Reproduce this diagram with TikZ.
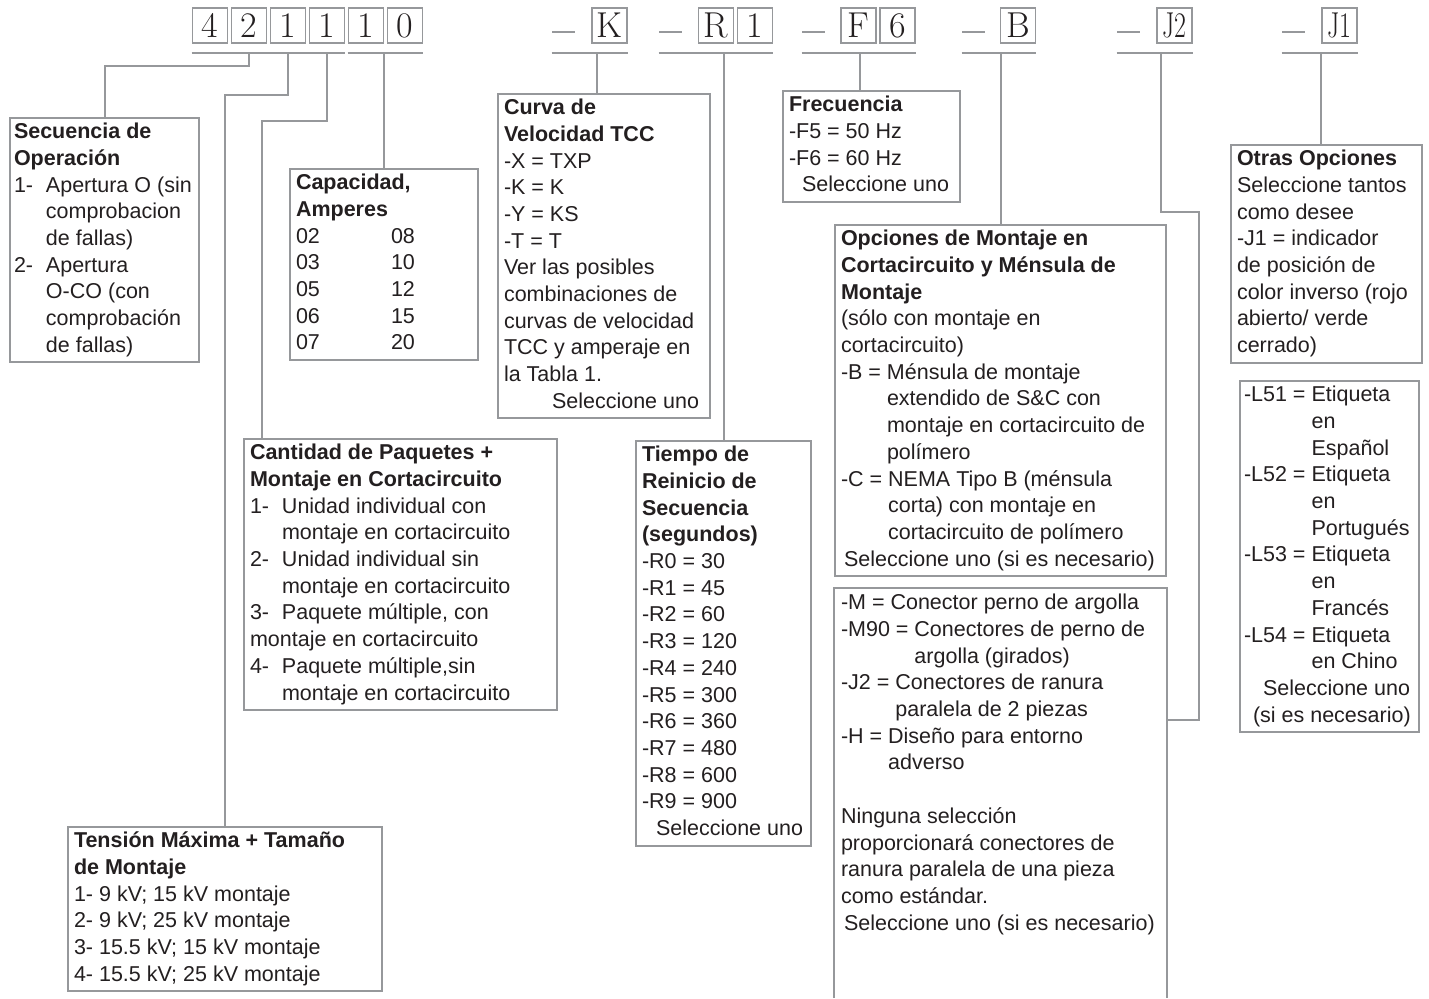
\documentclass[tikz,border=0pt]{standalone}
\usepackage{fontspec}
\usepackage{graphicx}
\usepackage{xcolor}
\usepackage{tikz}
\usetikzlibrary{calc}
\newfontfamily\sansfam{Liberation Sans}
\definecolor{linegray}{RGB}{150,152,155}
\definecolor{ink}{RGB}{35,31,32}
\newcommand{\boxfont}{\sansfam\fontsize{10.75}{13.35}\selectfont}
\newcommand{\codefont}{\fontsize{18}{20}\selectfont}
\newcommand{\num}[1]{\makebox[16pt][l]{#1}}
\newcommand{\narrow}[1]{\scalebox{0.72}[1]{#1}}
\newcommand{\sepbar}{\rule{11.5pt}{1pt}}

\begin{document}
\begin{tikzpicture}[x=0.5pt, y=-0.5pt,
  box/.style={draw=linegray, line width=1pt, anchor=north west, align=flush left,
              inner xsep=3pt, inner ysep=1pt, font=\boxfont, text=ink,
              execute at begin node=\strut, execute at end node=\strut},
  digit/.style={draw=linegray, line width=0.8pt, fill=white, minimum size=17.5pt,
                inner sep=0pt, font=\codefont, text=ink},
  sep/.style={text=linegray, inner sep=0pt},
  link/.style={draw=linegray, line width=1pt},
]
\path[use as bounding box, fill=white] (0,0) rectangle (1429,998);
\coordinate (ul) at (0,53);

% catalog number
\foreach \c [count=\i] in {4,2,1,1,1,0}
  \node[digit] (d\i) at (171+39*\i,25.5) {\c};
\node[sep]   (dK)  at (563.5,31.5)  {\sepbar};
\node[digit] (cK)  at (609.5,25.5)  {K};
\node[sep]   (dR)  at (670.5,31.5)  {\sepbar};
\node[digit] (cR)  at (716,25.5)    {R};
\node[digit] (c1)  at (755,25.5)    {1};
\node[sep]   (dF)  at (813.5,31.5)  {\sepbar};
\node[digit] (cF)  at (858.5,25.5)  {F};
\node[digit] (c6)  at (897.5,25.5)  {6};
\node[sep]   (dB)  at (973.5,31.5)  {\sepbar};
\node[digit] (cB)  at (1018,25.5)   {B};
\node[sep]   (dJ2) at (1128.5,31.5) {\sepbar};
\node[digit] (cJ2) at (1174.5,25.5) {\narrow{J2}};
\node[sep]   (dJ1) at (1293.5,31.5) {\sepbar};
\node[digit] (cJ1) at (1339.5,25.5) {\narrow{J1}};

% option boxes
\node[box, inner xsep=2pt, text width=90.5pt, minimum height=120.5pt] (seq) at (9,117)
  {\textbf{Secuencia de}\\
   \textbf{Operación}\\
   \num{1-}Apertura O (sin\\
   \hspace*{16pt}comprobacion\\
   \hspace*{16pt}de fallas)\\
   \num{2-}Apertura\\
   \hspace*{16pt}O-CO (con\\
   \hspace*{16pt}comprobación\\
   \hspace*{16pt}de fallas)};
\node[box, text width=88pt, minimum height=95pt] (amp) at (289,168)
  {\textbf{Capacidad,}\\
   \textbf{Amperes}\\
   \makebox[47.5pt][l]{02}08\\
   \makebox[47.5pt][l]{03}10\\
   \makebox[47.5pt][l]{05}12\\
   \makebox[47.5pt][l]{06}15\\
   \makebox[47.5pt][l]{07}20};
\node[box, text width=100pt, minimum height=160.5pt] (tcc) at (497,93)
  {\textbf{Curva de}\\
   \textbf{Velocidad TCC}\\
   -X = TXP\\
   -K = K\\
   -Y = KS\\
   -T = T\\
   Ver las posibles\\
   combinaciones de\\
   curvas de velocidad\\
   TCC y amperaje en\\
   la Tabla 1.\\
   \hspace*{24pt}Seleccione uno};
\node[box, text width=82.5pt, minimum height=54pt] (freq) at (782,90)
  {\textbf{Frecuencia}\\
   -F5 = 50 Hz\\
   -F6 = 60 Hz\\
   \hspace*{6.5pt}Seleccione uno};
\node[box, text width=159.5pt, minimum height=175.5pt] (mount) at (834,224)
  {\textbf{Opciones de Montaje en}\\
   \textbf{Cortacircuito y Ménsula de}\\
   \textbf{Montaje}\\
   (sólo con montaje en\\
   cortacircuito)\\
   -B = Ménsula de montaje\\
   \hphantom{-B = }extendido de S\&C con\\
   \hphantom{-B = }montaje en cortacircuito de\\
   \hphantom{-B = }polímero\\
   -C = NEMA Tipo B (ménsula\\
   \hphantom{-C = }corta) con montaje en\\
   \hphantom{-C = }cortacircuito de polímero\\
   \hspace*{1.5pt}Seleccione uno (si es necesario)};
\node[box, draw=none, text width=159.5pt] (conn) at (834,588)
  {-M = Conector perno de argolla\\
   -M90 = Conectores de perno de\\
   \hphantom{-M90 = }argolla (girados)\\
   -J2 = Conectores de ranura\\
   \hphantom{-J2 = }paralela de 2 piezas\\
   -H = Diseño para entorno\\
   \hphantom{-H = }adverso\\
   \strut\\
   Ninguna selección\\
   proporcionará conectores de\\
   ranura paralela de una pieza\\
   como estándar.\\
   \hspace*{1.5pt}Seleccione uno (si es necesario)};
\node[box, text width=89.5pt, minimum height=108pt] (other) at (1230,144)
  {\textbf{Otras Opciones}\\
   Seleccione tantos\\
   como desee\\
   -J1 = indicador\\
   de posición de\\
   color inverso (rojo\\
   abierto/ verde\\
   cerrado)};
\node[box, inner xsep=2pt, text width=85.5pt, minimum height=175pt] (label) at (1239,380)
  {-L51 = Etiqueta\\
   \hphantom{-L51 = }en\\
   \hphantom{-L51 = }Español\\
   -L52 = Etiqueta\\
   \hphantom{-L52 = }en\\
   \hphantom{-L52 = }Portugués\\
   -L53 = Etiqueta\\
   \hphantom{-L53 = }en\\
   \hphantom{-L53 = }Francés\\
   -L54 = Etiqueta\\
   \hphantom{-L54 = }en Chino\\
   \hspace*{9.5pt}Seleccione uno\\
   \hspace*{4.5pt}(si es necesario)};
\node[box, text width=150.5pt, minimum height=135pt] (qty) at (243,438)
  {\textbf{Cantidad de Paquetes +}\\
   \textbf{Montaje en Cortacircuito}\\
   \num{1-}Unidad individual con\\
   \hspace*{16pt}montaje en cortacircuito\\
   \num{2-}Unidad individual sin\\
   \hspace*{16pt}montaje en cortacircuito\\
   \num{3-}Paquete múltiple, con\\
   montaje en cortacircuito\\
   \num{4-}Paquete múltiple,sin\\
   \hspace*{16pt}montaje en cortacircuito};
\node[box, text width=81.5pt, minimum height=200pt] (reset) at (635,440)
  {\textbf{Tiempo de}\\
   \textbf{Reinicio de}\\
   \textbf{Secuencia}\\
   \textbf{(segundos)}\\
   -R0 = 30\\
   -R1 = 45\\
   -R2 = 60\\
   -R3 = 120\\
   -R4 = 240\\
   -R5 = 300\\
   -R6 = 360\\
   -R7 = 480\\
   -R8 = 600\\
   -R9 = 900\\
   \hspace*{7pt}Seleccione uno};
\node[box, text width=151pt, minimum height=82pt] (volt) at (67,826)
  {\textbf{Tensión Máxima + Tamaño}\\
   \textbf{de Montaje}\\
   1- 9 kV; 15 kV montaje\\
   2- 9 kV; 25 kV montaje\\
   3- 15.5 kV; 15 kV montaje\\
   4- 15.5 kV; 25 kV montaje};

% open box below the mounting options
\draw[link] (conn.north west |- 0,998) -- (conn.north west) -- (conn.north east) -- (conn.north east |- 0,998);

% underlines
\draw[link] (d1.west |- ul) -- (d4.east |- ul);
\draw[link] (d5.west |- ul) -- (d6.east |- ul);
\foreach \a/\b in {dK/cK, dR/c1, dF/c6, dB/cB, dJ2/cJ2, dJ1/cJ1}
  \draw[link] (\a.west |- ul) -- (\b.east |- ul);

% leaders
\draw[link] (d2.south |- ul) -- ++(0,13) -| (seq.north);
\draw[link] (d3.south |- ul) -- ++(0,42) -| (volt.north);
\draw[link] (d4.south |- ul) -- ++(0,68) -| ($(qty.north west)+(19,0)$);
\draw[link] (amp.north |- ul) -- (amp.north);
\draw[link] ([xshift=-3.5pt]tcc.north) -- ++(0,-40);
\draw[link] (reset.north |- ul) -- (reset.north);
\draw[link] ([xshift=-6pt]freq.north) -- ++(0,-37);
\draw[link] (mount.north |- ul) -- (mount.north);
\coordinate (j2) at ($(cJ2.south |- ul)+(-14,0)$);
\draw[link] (j2) |- ++(38,159) |- (conn.north east |- 0,720);
\draw[link] ([xshift=-3pt]other.north) -- ++(0,-91);
\end{tikzpicture}
\end{document}
